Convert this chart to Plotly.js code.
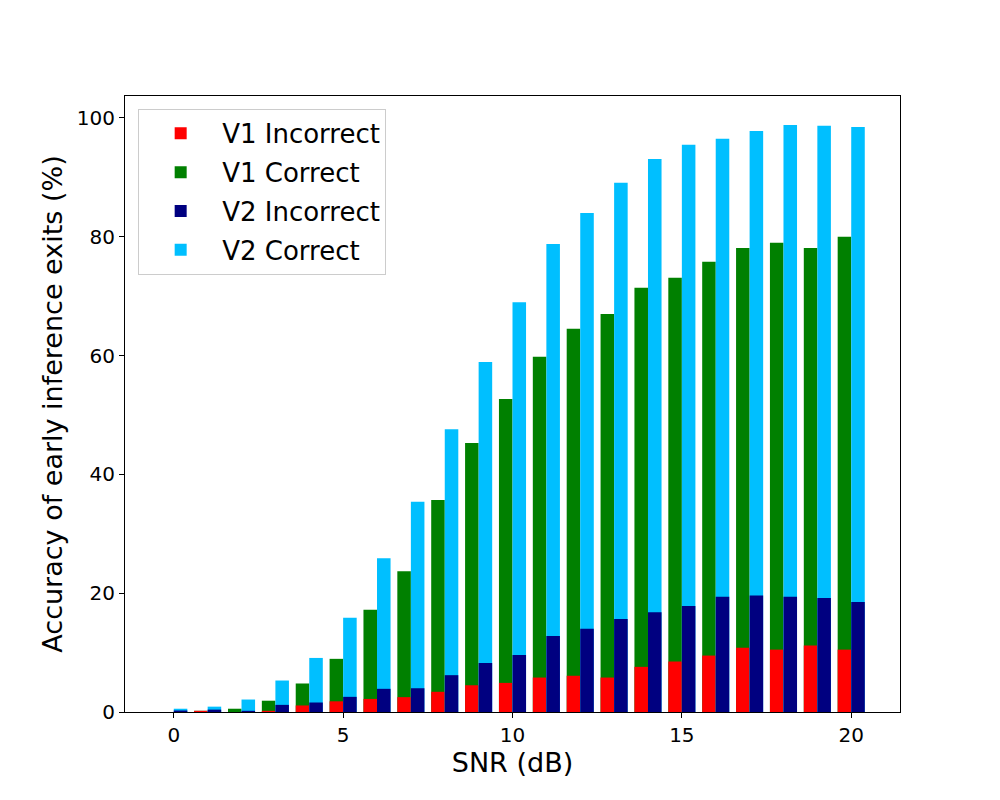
<!DOCTYPE html>
<html>
<head>
<meta charset="utf-8">
<script src="https://cdn.plot.ly/plotly-3.0.1.min.js"></script>
<style>
  body { margin: 0; background: #fff; }
  #plot { width: 1000px; height: 800px; }
</style>
</head>
<body>
<div id="plot"></div>
<script>
// SNR の値 (dB)
const snr = [0, 1, 2, 3, 4, 5, 6, 7, 8, 9, 10, 11, 12, 13, 14, 15, 16, 17, 18, 19, 20];

// V1 の棒 (%)
const v1Incorrect = [0, 0.2, 0, 0.2, 1.1, 1.8, 2.2, 2.5, 3.4, 4.5, 4.9, 5.8, 6.1, 5.8, 7.6, 8.5, 9.5, 10.8, 10.5, 11.2, 10.5];
const v1Correct = [0, 0.2, 0.55, 1.9, 4.8, 8.95, 17.2, 23.7, 35.7, 45.3, 52.7, 59.8, 64.5, 67.0, 71.4, 73.1, 75.8, 78.1, 79.0, 78.1, 80.0];

// V2 の棒 (%)
const v2Incorrect = [0.25, 0.4, 0.2, 1.2, 1.6, 2.55, 3.9, 4.0, 6.2, 8.25, 9.6, 12.8, 14.0, 15.65, 16.8, 17.85, 19.4, 19.6, 19.4, 19.2, 18.5];
const v2Correct = [0.55, 0.9, 2.1, 5.3, 9.1, 15.85, 25.9, 35.4, 47.6, 58.9, 69.0, 78.8, 84.0, 89.1, 93.1, 95.5, 96.5, 97.8, 98.8, 98.7, 98.5];

const font = "DejaVu Sans, sans-serif";

// 棒を作る関数 (offset で V1 は左, V2 は右)
function makeBar(name, values, color, offset, rank) {
  return {
    type: "bar",
    name: name,
    x: snr,
    y: values,
    width: 0.4,
    offset: offset,
    marker: { color: color, line: { width: 0 } },
    legendgroup: name,
    legendrank: rank,
    hoverinfo: "skip"
  };
}

// correct を先に描き, incorrect を上に重ねる
const data = [
  makeBar("V1 Correct", v1Correct, "#008000", -0.4, 2),
  makeBar("V1 Incorrect", v1Incorrect, "#ff0000", -0.4, 1),
  makeBar("V2 Correct", v2Correct, "#00bfff", 0, 4),
  makeBar("V2 Incorrect", v2Incorrect, "#000080", 0, 3)
];

const axisCommon = {
  showgrid: false,
  zeroline: false,
  showline: true,
  mirror: true,
  linecolor: "#000",
  linewidth: 1,
  ticks: "outside",
  ticklen: 5,
  tickwidth: 1,
  tickcolor: "#000",
  tickfont: { family: font, size: 20, color: "#000" }
};

const layout = {
  width: 1000,
  height: 800,
  margin: { l: 125, r: 100, t: 96, b: 88 },
  paper_bgcolor: "#fff",
  plot_bgcolor: "#fff",
  barmode: "overlay",
  font: { family: font, color: "#000" },
  xaxis: Object.assign({}, axisCommon, {
    range: [-1.44, 21.44],
    tickvals: [0, 5, 10, 15, 20],
    title: { text: "SNR (dB)", font: { family: font, size: 27, color: "#000" }, standoff: 1 }
  }),
  yaxis: Object.assign({}, axisCommon, {
    range: [0, 103.7],
    tickvals: [0, 20, 40, 60, 80, 100],
    title: { text: "Accuracy of early inference exits (%)", font: { family: font, size: 27, color: "#000" }, standoff: 6 }
  }),
  legend: {
    x: 0.017,
    y: 0.979,
    xanchor: "left",
    yanchor: "top",
    bgcolor: "#fff",
    bordercolor: "#cccccc",
    borderwidth: 1,
    traceorder: "grouped",
    tracegroupgap: 2,
    itemwidth: 73,
    font: { family: font, size: 26, color: "#000" }
  },
  showlegend: true
};

Plotly.newPlot("plot", data, layout, { displayModeBar: false, staticPlot: true });
</script>
</body>
</html>
